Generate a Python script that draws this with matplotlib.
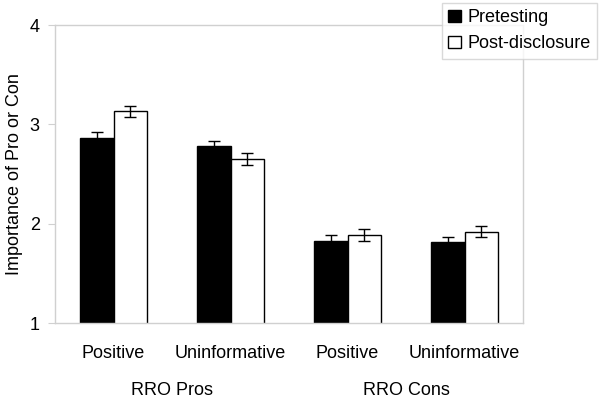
import numpy as np
import matplotlib.pyplot as plt

plt.rcParams['font.family'] = ['Liberation Sans', 'DejaVu Sans']

# --- data ---
categories = ["Positive", "Uninformative", "Positive", "Uninformative"]
groups = ["RRO Pros", "RRO Cons"]
pretest = [2.86, 2.78, 1.83, 1.82]
pretest_err = [0.06, 0.055, 0.06, 0.045]
postdisc = [3.13, 2.65, 1.89, 1.92]
postdisc_err = [0.055, 0.06, 0.06, 0.055]
yticks = [1, 2, 3, 4]

GRID = "#d0d0d0"
FS = 13

fig = plt.figure(figsize=(6.0, 3.98), dpi=100)
ax = fig.add_axes([55 / 600, 1 - 323 / 398, 468 / 600, 298 / 398])

x = np.arange(len(categories))
w = 0.29
err_kw = dict(ecolor="black", elinewidth=1.0, capsize=4, capthick=1.0)
ax.bar(x - w / 2, pretest, w, color="black", edgecolor="black",
       linewidth=1.0, yerr=pretest_err, error_kw=err_kw, label="Pretesting")
ax.bar(x + w / 2, postdisc, w, color="white", edgecolor="black",
       linewidth=1.0, yerr=postdisc_err, error_kw=err_kw, label="Post-disclosure")

ax.set_xlim(-0.5, 3.5)
ax.set_ylim(1, 4)
ax.set_yticks(yticks)
ax.set_yticklabels([str(t) for t in yticks], fontsize=FS)
ax.set_xticks(x)
ax.set_xticklabels(categories, fontsize=FS)
ax.tick_params(axis="x", length=0, pad=16)
ax.tick_params(axis="y", length=5, color=GRID, pad=6)
for s in ax.spines.values():
    s.set_color(GRID)
    s.set_linewidth(1.0)

ax.set_ylabel("Importance of Pro or Con", fontsize=FS, labelpad=5)

# group labels under the category labels
for i, g in enumerate(groups):
    ax.text(2 * i + 0.5, -0.225, g, transform=ax.get_xaxis_transform(),
            ha="center", va="center", fontsize=FS)

leg = fig.legend(loc="upper right", bbox_to_anchor=(597 / 600, 1 - 3 / 398),
                 fontsize=FS, frameon=True, fancybox=False, handlelength=0.7,
                 handleheight=0.7, handletextpad=0.35, borderpad=0.35,
                 labelspacing=0.5, borderaxespad=0)
leg.get_frame().set_edgecolor(GRID)
leg.get_frame().set_linewidth(1.0)

fig.savefig("out.png", dpi=100)
